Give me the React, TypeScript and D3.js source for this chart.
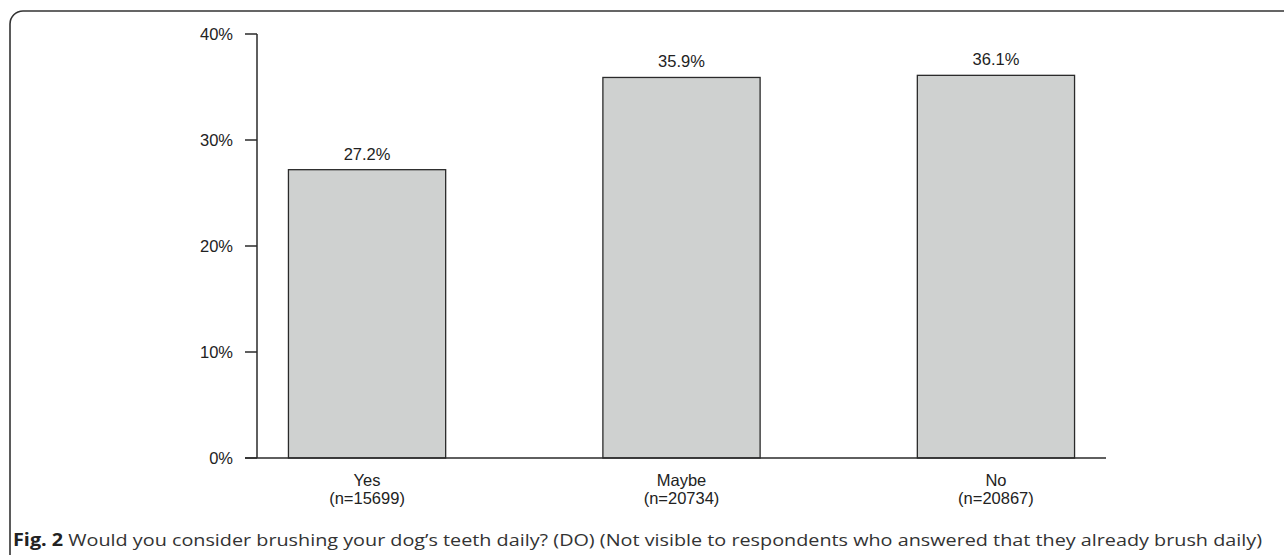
import React from "react";
import * as d3 from "d3";

const categories = ["Yes", "Maybe", "No"];
const counts = ["(n=15699)", "(n=20734)", "(n=20867)"];
const values = [27.2, 35.9, 36.1];
const yTicks = [0, 10, 20, 30, 40];
const captionBold = "Fig. 2";
const captionText =
  " Would you consider brushing your dog\u2019s teeth daily? (DO) (Not visible to respondents who answered that they already brush daily)";

const W = 1284;
const H = 555;

export default function App() {
  const x = d3
    .scaleBand<string>()
    .domain(categories)
    .range([257, 1106])
    .paddingInner(0.5)
    .paddingOuter(0.1);
  const y = d3.scaleLinear().domain([0, 40]).range([458, 34]);
  const font = "'Liberation Sans', Arial, Helvetica, sans-serif";
  const stroke = "#2a2a2a";

  return (
    <svg
      width={W}
      height={H}
      style={{ position: "absolute", left: 0, top: 0, background: "#fff" }}
    >
      <rect
        x={10}
        y={11}
        width={1400}
        height={700}
        rx={13}
        ry={13}
        fill="none"
        stroke="#333"
        strokeWidth={1.6}
      />
      {categories.map((c, i) => (
        <g key={c}>
          <rect
            x={x(c)}
            y={y(values[i])}
            width={x.bandwidth()}
            height={y(0) - y(values[i])}
            fill="#cfd1d0"
            stroke={stroke}
            strokeWidth={1.3}
          />
          <text
            x={(x(c) as number) + x.bandwidth() / 2}
            y={y(values[i]) - 10}
            textAnchor="middle"
            fontFamily={font}
            fontSize={16.5}
            fill="#222"
          >
            {values[i].toFixed(1)}%
          </text>
          <text
            x={(x(c) as number) + x.bandwidth() / 2}
            y={486}
            textAnchor="middle"
            fontFamily={font}
            fontSize={16.5}
            fill="#222"
          >
            {c}
          </text>
          <text
            x={(x(c) as number) + x.bandwidth() / 2}
            y={504}
            textAnchor="middle"
            fontFamily={font}
            fontSize={16.5}
            fill="#222"
          >
            {counts[i]}
          </text>
        </g>
      ))}
      <line x1={257} x2={257} y1={y(40)} y2={y(0)} stroke={stroke} strokeWidth={1.5} />
      <line x1={245} x2={1106} y1={y(0)} y2={y(0)} stroke={stroke} strokeWidth={1.5} />
      {yTicks.map((t) => (
        <g key={t}>
          <line x1={245} x2={257} y1={y(t)} y2={y(t)} stroke={stroke} strokeWidth={1.5} />
          <text
            x={233}
            y={y(t)}
            dy="0.35em"
            textAnchor="end"
            fontFamily={font}
            fontSize={16.5}
            fill="#222"
          >
            {t}%
          </text>
        </g>
      ))}
      <text
        x={13}
        y={546}
        fontFamily="'Open Sans', 'Noto Sans', sans-serif"
        fontSize={17}
        fill="#333"
        textLength={1249}
        lengthAdjust="spacingAndGlyphs"
      >
        <tspan fontWeight="bold" fill="#222">{captionBold}</tspan>
        <tspan>{captionText}</tspan>
      </text>
    </svg>
  );
}
